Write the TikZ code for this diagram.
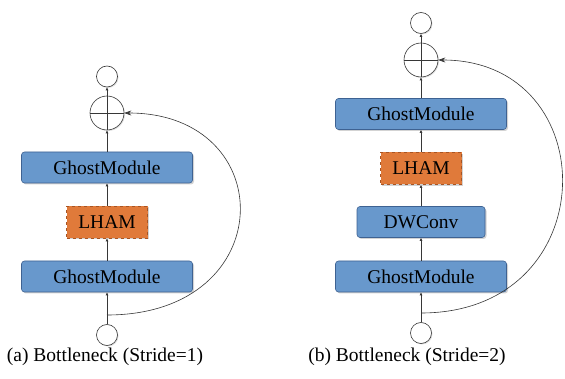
\documentclass[tikz,border=0pt]{standalone}
\usepackage{fontspec}
\setmainfont{Liberation Serif}
\usetikzlibrary{arrows.meta,shadows,positioning}

\definecolor{ghostblue}{RGB}{104,152,204}
\definecolor{ghostedge}{RGB}{62,98,146}
\definecolor{lhamorange}{RGB}{224,122,58}
\definecolor{lhamedge}{RGB}{168,84,34}
\definecolor{wire}{RGB}{55,55,55}

\begin{document}
\begin{tikzpicture}[x=1pt,y=-1pt,font=\fontsize{19.5}{22}\selectfont,
                    >={Latex[length=3pt,width=3pt]},semithick]
  \tikzstyle{ghost}=[draw=ghostedge,fill=ghostblue,rounded corners=3pt,
                     minimum width=171pt,minimum height=31pt,
                     drop shadow={opacity=0.35,shadow xshift=1.5pt,shadow yshift=-1.5pt}]
  \tikzstyle{dwconv}=[ghost,minimum width=128pt]
  \tikzstyle{lham}=[draw=lhamedge,dashed,fill=lhamorange,
                    minimum width=81pt,minimum height=32pt,
                    drop shadow={opacity=0.35,shadow xshift=1.5pt,shadow yshift=-1.5pt}]
  \tikzstyle{port}=[circle,draw=wire,fill=white,minimum size=21pt,inner sep=0pt,
                    drop shadow={opacity=0.25,shadow xshift=1pt,shadow yshift=-1pt}]
  \tikzstyle{addop}=[circle,draw=wire,fill=white,minimum size=34pt,inner sep=0pt,
                     drop shadow={opacity=0.25,shadow xshift=1pt,shadow yshift=-1pt},
                     path picture={\draw[wire]
                       (path picture bounding box.north) -- (path picture bounding box.south)
                       (path picture bounding box.west) -- (path picture bounding box.east);}]
  \tikzstyle{flow}=[draw=wire,->]
  \tikzstyle{skip}=[draw=wire,-{Stealth[length=7pt,width=5pt]}]

  \useasboundingbox (0,0) rectangle (565,379);

  % (a) stride 1
  \node[port]  (inA) at (107,335)                                {};
  \node[ghost] (gmA1)  [above of=inA,node distance=58.5pt]        {GhostModule};
  \node[lham]  (lhamA) [above of=gmA1,node distance=54.5pt]       {LHAM};
  \node[ghost] (gmA2)  [above of=lhamA,node distance=54.5pt]      {GhostModule};
  \node[addop] (addA)  [above of=gmA2,node distance=54.5pt]       {};
  \node[port]  (outA)  [above of=addA,node distance=36.5pt]       {};
  \coordinate (brA) at (107,315);

  \path[flow] (inA) -- (gmA1);
  \path[flow] (gmA1) -- (lhamA);
  \path[flow] (lhamA) -- (gmA2);
  \path[flow] (gmA2) -- (addA);
  \path[flow] (addA) -- (outA);
  \path[skip] (brA) .. controls (281,315) and (281,113) .. (addA.east);

  \node (capA) at (105,357) {(a) Bottleneck (Stride=1)};

  % (b) stride 2
  \node[port]  (inB) at (421,333)                                {};
  \node[ghost] (gmB1)  [above of=inB,node distance=56.5pt]        {GhostModule};
  \node[dwconv](dwB)   [above of=gmB1,node distance=54.5pt]       {DWConv};
  \node[lham]  (lhamB) [above of=dwB,node distance=53.5pt]        {LHAM};
  \node[ghost] (gmB2)  [above of=lhamB,node distance=54.5pt]      {GhostModule};
  \node[addop] (addB)  [above of=gmB2,node distance=54pt]         {};
  \node[port]  (outB)  [above of=addB,node distance=37pt]         {};
  \coordinate (brB) at (421,313);

  \path[flow] (inB) -- (gmB1);
  \path[flow] (gmB1) -- (dwB);
  \path[flow] (dwB) -- (lhamB);
  \path[flow] (lhamB) -- (gmB2);
  \path[flow] (gmB2) -- (addB);
  \path[flow] (addB) -- (outB);
  \path[skip] (brB) .. controls (606,313) and (606,60) .. (addB.east);

  \node (capB) at (407,357) {(b) Bottleneck (Stride=2)};
\end{tikzpicture}
\end{document}
